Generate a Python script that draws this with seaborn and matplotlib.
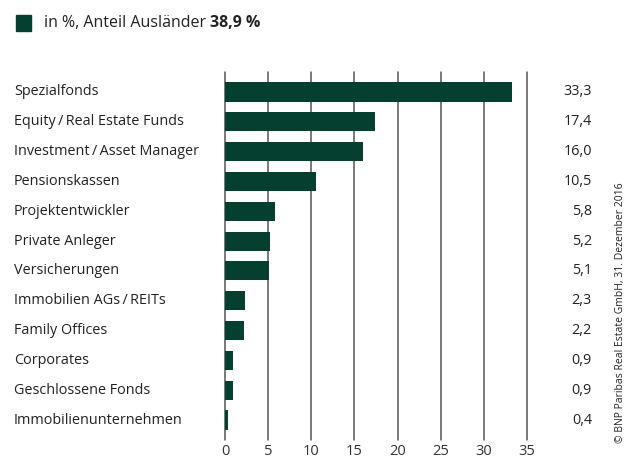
import matplotlib
matplotlib.use("Agg")
import matplotlib.pyplot as plt
import seaborn as sns
import pandas as pd

categories = ["Spezialfonds", "Equity\u2009/\u2009Real Estate Funds", "Investment\u2009/\u2009Asset Manager",
              "Pensionskassen", "Projektentwickler", "Private Anleger", "Versicherungen",
              "Immobilien AGs\u2009/\u2009REITs", "Family Offices", "Corporates",
              "Geschlossene Fonds", "Immobilienunternehmen"]
values = [33.3, 17.4, 16.0, 10.5, 5.8, 5.2, 5.1, 2.3, 2.2, 0.9, 0.9, 0.4]
value_labels = ["33,3", "17,4", "16,0", "10,5", "5,8", "5,2", "5,1", "2,3", "2,2", "0,9", "0,9", "0,4"]
xticks = [0, 5, 10, 15, 20, 25, 30, 35]

sns.set_theme(style="white")
plt.rcParams['font.family'] = ['Open Sans', 'DejaVu Sans']

color = "#053f30"
df = pd.DataFrame({"cat": categories, "val": values})

fig = plt.figure(figsize=(6.38, 4.63), dpi=100)
ax = fig.add_axes([225/638, 1-440/463, (527-225)/638, (440-72)/463])
sns.barplot(data=df, x="val", y="cat", orient="h", color=color, width=0.64,
            saturation=1, linewidth=0, ax=ax, zorder=3)
ax.set_xlim(0, 35)
ax.set_ylim(11.67, -0.67)
for s in ax.spines.values():
    s.set_visible(False)
for t in xticks:
    ax.axvline(t, color="#555555", lw=1.1, zorder=1, clip_on=False)
ax.set_xticks(xticks)
ax.set_xticklabels([str(t) for t in xticks], fontsize=10.5, color="#333333")
ax.tick_params(axis="x", length=0, pad=3)
ax.set_yticks(range(len(categories)))
ax.set_yticklabels([])
ax.tick_params(axis="y", length=0)
ax.set_xlabel("")
ax.set_ylabel("")

for i, (c, lab) in enumerate(zip(categories, value_labels)):
    ax.annotate(c, xy=(14/638, i), xycoords=("figure fraction", "data"),
                ha="left", va="center", fontsize=10.4, color="#222222")
    ax.annotate(lab, xy=(592/638, i), xycoords=("figure fraction", "data"),
                ha="right", va="center", fontsize=10.4, color="#222222")

fig.text(620/638, 1-313/463, "© BNP Paribas Real Estate GmbH, 31. Dezember 2016",
         rotation=90, ha="center", va="center", fontsize=7.5, color="#222222")

fig.patches.append(plt.Rectangle((16/638, 1-31/463), 15/638, 16/463,
                                 transform=fig.transFigure, color=color, figure=fig))
fig.text(44/638, 1-23/463, "in %, Anteil Ausländer ", fontsize=11.5, color="#222222",
         ha="left", va="center")
t1 = fig.text(44/638, 1-23/463, "in %, Anteil Ausländer ", fontsize=11.5, alpha=0,
              ha="left", va="center")
fig.canvas.draw()
bb = t1.get_window_extent()
fig.text(bb.x1/fig.bbox.width, 1-23/463, "38,9 %", fontsize=11.5, fontweight="bold",
         color="#222222", ha="left", va="center")

fig.savefig("out.png", dpi=100)
